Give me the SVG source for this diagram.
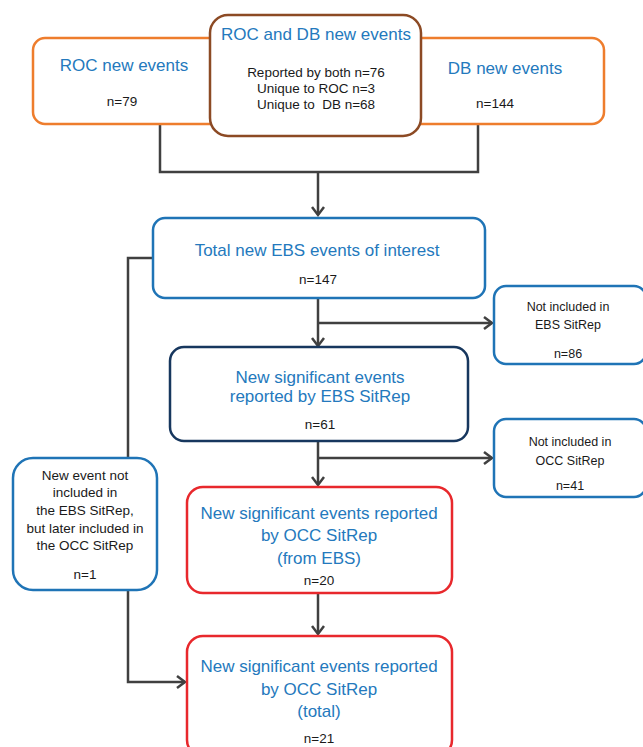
<svg xmlns="http://www.w3.org/2000/svg" width="643" height="747" viewBox="0 0 643 747">
<defs>
<style>
.box{fill:#fff;stroke-width:2.5}
.or{stroke:#EE7D2D}
.br{stroke:#8C4A24}
.bl{stroke:#1F74B6}
.nv{stroke:#17375E}
.rd{stroke:#E8282C}
.t{font-family:"Liberation Sans",Arial,sans-serif;text-anchor:middle}
.h{fill:#2479BD;font-size:17px}
.s{fill:#1a1a1a;font-size:12.5px}
.m{fill:#1a1a1a;font-size:13.5px}
.c{fill:none;stroke:#404040;stroke-width:2.5}
</style>
<marker id="ar" markerUnits="userSpaceOnUse" markerWidth="14" markerHeight="16" refX="9" refY="7" orient="auto">
<path d="M1,1 L9,7 L1,13" fill="none" stroke="#404040" stroke-width="2.5"/>
</marker>
</defs>
<rect width="643" height="747" fill="#fff"/>
<g id="connectors">
<path class="c" d="M160,124 V172 H478 V124"/>
<path class="c" d="M318,172 V215" marker-end="url(#ar)"/>
<path class="c" d="M318,298 V346" marker-end="url(#ar)"/>
<path class="c" d="M318,323 H492" marker-end="url(#ar)"/>
<path class="c" d="M318,441 V485" marker-end="url(#ar)"/>
<path class="c" d="M318,458 H492" marker-end="url(#ar)"/>
<path class="c" d="M318,593 V634" marker-end="url(#ar)"/>
<path class="c" d="M153,258 H128 V458"/>
<path class="c" d="M128,590 V682 H185" marker-end="url(#ar)"/>
</g>
<g id="roc">
<rect class="box or" x="33" y="38" width="200" height="86" rx="12"/>
<text class="t h" x="124" y="71">ROC new events</text>
<text class="t m" x="122" y="106">n=79</text>
</g>
<g id="db">
<rect class="box or" x="400" y="38" width="204" height="86" rx="12"/>
<text class="t h" x="505" y="74">DB new events</text>
<text class="t m" x="495" y="108">n=144</text>
</g>
<g id="rocdb">
<rect class="box br" x="210" y="15" width="211" height="121" rx="18"/>
<text class="t h" x="316" y="40">ROC and DB new events</text>
<text class="t m" x="316" y="77">Reported by both n=76</text>
<text class="t m" x="316" y="93">Unique to ROC n=3</text>
<text class="t m" x="316" y="109" xml:space="preserve">Unique to  DB n=68</text>
</g>
<g id="total">
<rect class="box bl" x="153" y="218" width="332" height="80" rx="12"/>
<text class="t h" x="317" y="256">Total new EBS events of interest</text>
<text class="t m" x="318" y="284">n=147</text>
</g>
<g id="notebs">
<rect class="box bl" x="494" y="286" width="152" height="78" rx="12"/>
<text class="t s" x="568" y="311">Not included in</text>
<text class="t s" x="568" y="329">EBS SitRep</text>
<text class="t s" x="568" y="358">n=86</text>
</g>
<g id="ebs">
<rect class="box nv" x="170" y="347" width="298" height="94" rx="14"/>
<text class="t h" x="320" y="383">New significant events</text>
<text class="t h" x="320" y="402">reported by EBS SitRep</text>
<text class="t m" x="320" y="429">n=61</text>
</g>
<g id="notocc">
<rect class="box bl" x="494" y="419" width="152" height="78" rx="12"/>
<text class="t s" x="570" y="446">Not included in</text>
<text class="t s" x="570" y="465">OCC SitRep</text>
<text class="t s" x="570" y="490">n=41</text>
</g>
<g id="later">
<rect class="box bl" x="13" y="458" width="144" height="132" rx="20"/>
<text class="t m" x="85" y="480">New event not</text>
<text class="t m" x="85" y="497">included in</text>
<text class="t m" x="85" y="515">the EBS SitRep,</text>
<text class="t m" x="85" y="533">but later included in</text>
<text class="t m" x="85" y="550">the OCC SitRep</text>
<text class="t m" x="85" y="579">n=1</text>
</g>
<g id="occebs">
<rect class="box rd" x="187" y="487" width="265" height="106" rx="16"/>
<text class="t h" x="319" y="519">New significant events reported</text>
<text class="t h" x="319" y="541">by OCC SitRep</text>
<text class="t h" x="319" y="564">(from EBS)</text>
<text class="t m" x="319" y="585">n=20</text>
</g>
<g id="occtotal">
<rect class="box rd" x="187" y="636" width="265" height="120" rx="16"/>
<text class="t h" x="319" y="672">New significant events reported</text>
<text class="t h" x="319" y="695">by OCC SitRep</text>
<text class="t h" x="319" y="717">(total)</text>
<text class="t m" x="319" y="743">n=21</text>
</g>
</svg>
